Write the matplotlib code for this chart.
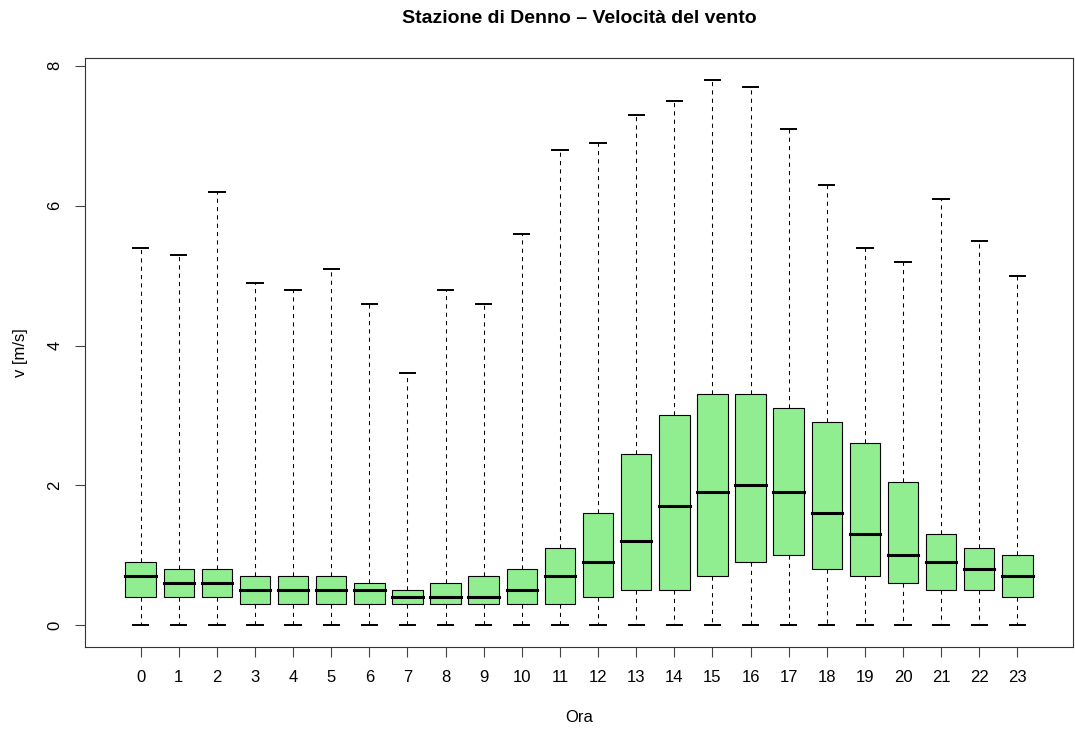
import numpy as np
import matplotlib.pyplot as plt

plt.rcParams['font.family'] = ['Liberation Sans', 'DejaVu Sans']

# hourly wind speed summary (m/s)
ore = list(range(24))
minimo = [0.0] * 24
q1 = [0.4, 0.4, 0.4, 0.3, 0.3, 0.3, 0.3, 0.3, 0.3, 0.3, 0.3, 0.3,
      0.4, 0.5, 0.5, 0.7, 0.9, 1.0, 0.8, 0.7, 0.6, 0.5, 0.5, 0.4]
mediana = [0.7, 0.6, 0.6, 0.5, 0.5, 0.5, 0.5, 0.4, 0.4, 0.4, 0.5, 0.7,
           0.9, 1.2, 1.7, 1.9, 2.0, 1.9, 1.6, 1.3, 1.0, 0.9, 0.8, 0.7]
q3 = [0.9, 0.8, 0.8, 0.7, 0.7, 0.7, 0.6, 0.5, 0.6, 0.7, 0.8, 1.1,
      1.6, 2.45, 3.0, 3.3, 3.3, 3.1, 2.9, 2.6, 2.05, 1.3, 1.1, 1.0]
massimo = [5.4, 5.3, 6.2, 4.9, 4.8, 5.1, 4.6, 3.6, 4.8, 4.6, 5.6, 6.8,
           6.9, 7.3, 7.5, 7.8, 7.7, 7.1, 6.3, 5.4, 5.2, 6.1, 5.5, 5.0]

stats = []
for i in range(len(ore)):
    stats.append({"whislo": minimo[i], "q1": q1[i], "med": mediana[i],
                  "q3": q3[i], "whishi": massimo[i], "fliers": []})

fig = plt.figure(figsize=(10.75, 7.36), dpi=100)
ax = fig.add_axes([85/1075, 1 - 647/736, (1073 - 85)/1075, (647 - 58)/736])

ax.bxp(stats, positions=ore, widths=0.8, patch_artist=True, showfliers=False,
       boxprops=dict(facecolor="#90EE90", edgecolor="black", linewidth=0.8),
       medianprops=dict(color="black", linewidth=2.2, solid_capstyle="projecting"),
       whiskerprops=dict(color="black", linewidth=0.75, linestyle=(0, (4, 4))),
       capprops=dict(color="black", linewidth=1.4), capwidths=0.4)

ax.set_xlim(-1.46, 24.46)
ax.set_ylim(-0.312, 8.112)
ax.set_xticks(ore)
ax.set_xticklabels([str(h) for h in ore])
ax.set_yticks([0, 2, 4, 6, 8])
ax.set_yticklabels(["0", "2", "4", "6", "8"], rotation=90, va="center")
ax.tick_params(labelsize=12, length=7.2, width=0.8, pad=9, color="#444444")
for s in ax.spines.values():
    s.set_linewidth(0.8)
    s.set_color("#333333")

ax.set_xlabel("Ora", fontsize=12, labelpad=18)
ax.set_ylabel("v [m/s]", fontsize=12, labelpad=14)
ax.set_title("Stazione di Denno \u2013 Velocit\u00e0 del vento",
             fontsize=14, fontweight="bold", pad=25)

fig.savefig("out.png", dpi=100)
